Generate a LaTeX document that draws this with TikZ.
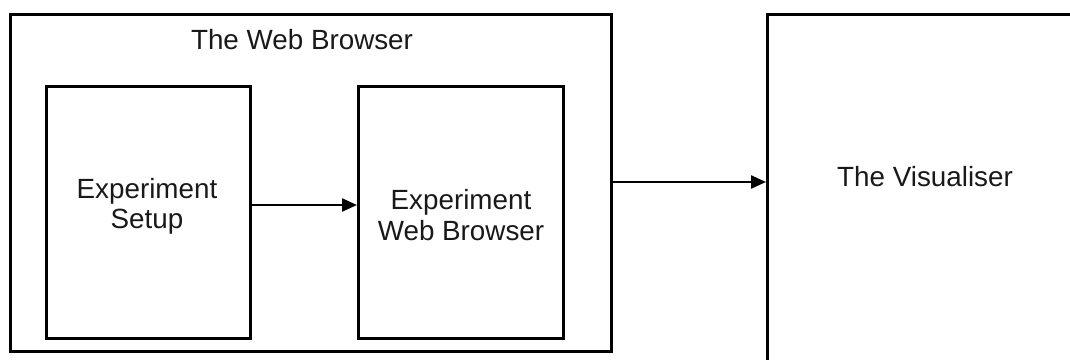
\documentclass[tikz,border=0pt]{standalone}
\usepackage{fontspec}
\setmainfont{Liberation Sans}
\usetikzlibrary{arrows.meta}
\begin{document}
\begin{tikzpicture}[x=1pt,y=-1pt,
  box/.style={draw,line width=2.8pt,inner sep=0pt,anchor=north west},
  lbl/.style={font=\fontsize{27.8}{31}\selectfont,align=center,inner sep=0pt,text=black!90},
  arr/.style={line width=2.3pt,-{Triangle[length=15pt,width=13pt]}}]
\useasboundingbox (0,0) rectangle (1070,359);
\clip (0,0) rectangle (1070,359);
\fill[white] (0,0) rectangle (1070,359);
% boxes
\node[box,minimum width=601pt,minimum height=337pt] (outer) at (9,13) {};
\node[box,minimum width=204pt,minimum height=252pt] (b1) at (45,85) {};
\node[box,minimum width=205pt,minimum height=252pt] (b2) at (357,85) {};
\node[box,minimum width=400pt,minimum height=400pt] (vis) at (766,13) {};
% labels
\node[lbl,anchor=base] (t0) at (302,49) {The Web Browser};
\node[lbl,anchor=base] (t1a) at (147,198) {Experiment};
\node[lbl,anchor=base] (t1b) at (147,228) {Setup};
\node[lbl,anchor=base] (t2a) at (461,209) {Experiment};
\node[lbl,anchor=base] (t2b) at (461,240) {Web Browser};
\node[lbl,anchor=base] (t3) at (925,186) {The Visualiser};
% connectors
\coordinate (ya) at (0,205);
\coordinate (yb) at (0,182);
\draw[arr] (b1.east |- ya) -- (b2.west |- ya);
\draw[arr] (outer.east |- yb) -- (vis.west |- yb);
\end{tikzpicture}
\end{document}
